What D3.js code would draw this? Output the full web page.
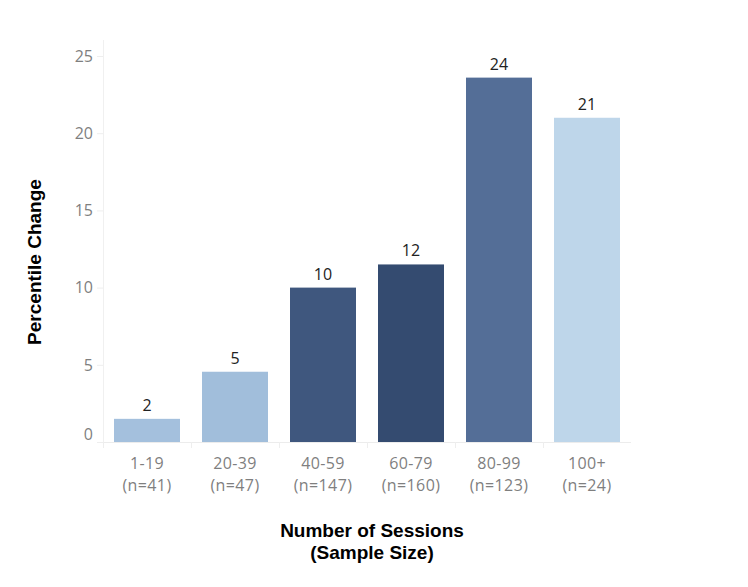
<!DOCTYPE html>
<html>
<head>
<meta charset="utf-8">
<script src="https://cdn.jsdelivr.net/npm/d3@7"></script>
<style>
  html, body { margin: 0; padding: 0; background: #fff; }
  svg { display: block; }
</style>
</head>
<body>
<svg id="chart" width="748" height="587"></svg>
<script>
const categories = ["1-19", "20-39", "40-59", "60-79", "80-99", "100+"];
const sampleSizes = ["(n=41)", "(n=47)", "(n=147)", "(n=160)", "(n=123)", "(n=24)"];
const values = [1.5, 4.55, 10.0, 11.5, 23.6, 21.0];
const valueLabels = ["2", "5", "10", "12", "24", "21"];
const barColors = ["#a4c0dd", "#a1bedb", "#3f577e", "#344b70", "#546e97", "#bed6ea"];
const yTicks = [0, 5, 10, 15, 20, 25];

(function () {
const svg = d3.select("#chart");
const mLeft = 103, mRight = 631, mTop = 56, mBottom = 442;
const tickFont = "'Open Sans', sans-serif";
const titleFont = "'Liberation Sans', Arial, sans-serif";

const x = d3.scaleBand().domain(categories).range([mLeft, mRight])
  .paddingInner(0.25).paddingOuter(0.125);
const y = d3.scaleLinear().domain([0, 25]).range([mBottom, mTop]);

// y axis line
svg.append("line").attr("x1", mLeft + 0.5).attr("x2", mLeft + 0.5).attr("y1", 40).attr("y2", mBottom)
  .attr("stroke", "#f0f0f0").attr("stroke-width", 1);
// baseline
svg.append("line").attr("x1", mLeft).attr("x2", mRight).attr("y1", mBottom + 0.5).attr("y2", mBottom + 0.5)
  .attr("stroke", "#ececec").attr("stroke-width", 1);

// y ticks
const yAxis = svg.append("g");
yTicks.forEach(t => {
  yAxis.append("line").attr("x1", mLeft - 6).attr("x2", mLeft).attr("y1", y(t) + 0.5).attr("y2", y(t) + 0.5)
    .attr("stroke", "#eeeeee");
  yAxis.append("text").attr("x", mLeft - 10).attr("y", y(t) - (t === 0 ? 8 : 0))
    .attr("dy", "0.36em").attr("text-anchor", "end")
    .attr("font-family", tickFont).attr("font-size", 16)
    .attr("fill", "#7f7f7f").text(t);
});

// category separators below baseline
categories.forEach((c) => {
  const xs = Math.round(x(c) - x.step() * x.paddingInner() / 2) + 0.5;
  svg.append("line").attr("x1", xs).attr("x2", xs).attr("y1", mBottom).attr("y2", mBottom + 6)
    .attr("stroke", "#eeeeee");
});

// bars
svg.append("g").selectAll("rect").data(values).join("rect")
  .attr("x", (d, i) => x(categories[i]))
  .attr("width", x.bandwidth())
  .attr("y", d => y(d))
  .attr("height", d => mBottom - y(d))
  .attr("fill", (d, i) => barColors[i]);

// value labels
svg.append("g").selectAll("text").data(values).join("text")
  .attr("x", (d, i) => x(categories[i]) + x.bandwidth() / 2)
  .attr("y", d => y(d) - 8)
  .attr("text-anchor", "middle")
  .attr("font-family", tickFont).attr("font-size", 16)
  .attr("fill", "#222").text((d, i) => valueLabels[i]);

// x tick labels
const xl = svg.append("g");
categories.forEach((c, i) => {
  const cx = x(c) + x.bandwidth() / 2;
  xl.append("text").attr("x", cx).attr("y", 469).attr("text-anchor", "middle")
    .attr("font-family", tickFont).attr("font-size", 16).attr("letter-spacing", 0.4)
    .attr("fill", "#7f7f7f").text(c);
  xl.append("text").attr("x", cx).attr("y", 491).attr("text-anchor", "middle")
    .attr("font-family", tickFont).attr("font-size", 16).attr("letter-spacing", 0.4)
    .attr("fill", "#7f7f7f").text(sampleSizes[i]);
});

// axis titles
svg.append("text").attr("x", 372).attr("y", 537).attr("text-anchor", "middle")
  .attr("font-family", titleFont).attr("font-weight", "bold")
  .attr("font-size", 19).attr("fill", "#000").text("Number of Sessions");
svg.append("text").attr("x", 372).attr("y", 559).attr("text-anchor", "middle")
  .attr("font-family", titleFont).attr("font-weight", "bold")
  .attr("font-size", 19).attr("fill", "#000").text("(Sample Size)");
svg.append("text").attr("transform", "translate(41,262) rotate(-90)").attr("text-anchor", "middle")
  .attr("font-family", titleFont).attr("font-weight", "bold")
  .attr("font-size", 19).attr("fill", "#000").text("Percentile Change");
})();
</script>
</body>
</html>
